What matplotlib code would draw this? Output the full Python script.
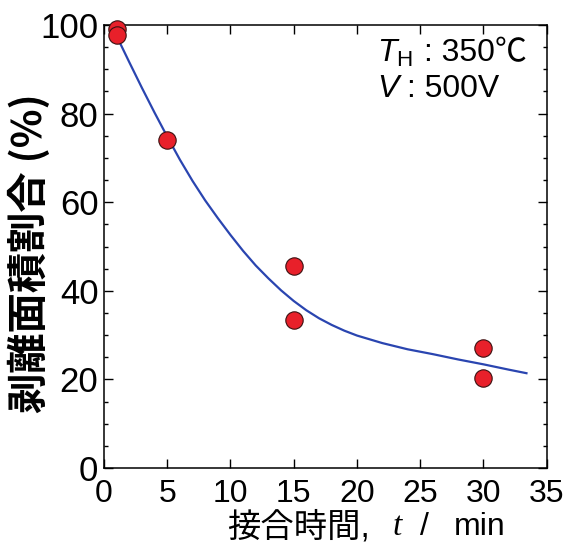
import matplotlib
matplotlib.use("Agg")
import matplotlib.pyplot as plt
from matplotlib.ticker import MultipleLocator

# Measured data points
time_min = [1, 1, 5, 15, 15, 30, 30]
peel_ratio = [99.0, 97.7, 74.0, 45.7, 33.4, 27.0, 20.4]

# Fitted curve
fit_t = [1, 2, 3, 4, 5, 6, 7, 8, 9, 10, 11, 12, 13, 14, 15, 16, 17, 18, 19, 20,
         22, 24, 26, 28, 30, 32, 33.4]
fit_y = [97.5, 91.6, 85.8, 80.2, 74.8, 69.6, 64.8, 60.4, 56.4, 52.6, 49.0, 45.7,
         42.8, 40.1, 37.7, 35.6, 33.8, 32.3, 31.0, 29.9, 28.2, 26.8, 25.7, 24.5,
         23.4, 22.2, 21.4]

x_ticks = [0, 5, 10, 15, 20, 25, 30, 35]
y_ticks = [0, 20, 40, 60, 80, 100]

plt.rcParams['font.family'] = ['Liberation Sans', 'Noto Sans CJK JP', 'DejaVu Sans']
plt.rcParams['mathtext.fontset'] = 'custom'
plt.rcParams['mathtext.rm'] = 'Liberation Sans'
plt.rcParams['mathtext.it'] = 'Liberation Sans:italic'

fig = plt.figure(figsize=(5.71, 5.44), dpi=100)
ax = fig.add_axes([104/571, 1-468/544, (546.7-104)/571, (468-25)/544])

ax.plot(fit_t, fit_y, color='#2a45b0', lw=1.6, zorder=2)
ax.plot(time_min, peel_ratio, 'o', ms=12.5, mfc='#e8202a', mec='#3a1010', mew=0.8,
        zorder=3, clip_on=False)

ax.set_xlim(0, 35)
ax.set_ylim(0, 100)
ax.set_xticks(x_ticks)
ax.set_yticks(y_ticks)
ax.yaxis.set_minor_locator(MultipleLocator(5))
ax.tick_params(which='both', direction='in', top=True, right=True, width=1.0, colors='black')
ax.tick_params(which='major', length=6.5)
ax.tick_params(which='minor', length=3)
ax.tick_params(axis='x', pad=8, labelsize=23)
ax.tick_params(axis='y', pad=4, labelsize=25)
for s in ax.spines.values():
    s.set_linewidth(1.1)

fig.text(30/571, 1-253/544, '剥離面積割合 (%)', rotation=90, ha='center', va='center',
         fontsize=29, fontweight='bold', family=['Noto Sans CJK JP', 'DejaVu Sans'])

# x label: pieces so that t is italic
xl_y = 1-527/544
fig.text(227/571, xl_y, '接合時間,', ha='left', va='center', fontsize=24,
         family=['Liberation Sans', 'Noto Sans CJK JP'])
fig.text(393/571, xl_y, 't', ha='left', va='center', fontsize=24, style='italic',
         family=['Liberation Serif'])
fig.text(420/571, xl_y, '/', ha='left', va='center', fontsize=23,
         family=['Liberation Sans'])
fig.text(454/571, xl_y, 'min', ha='left', va='center', fontsize=23,
         family=['Liberation Sans'])

# annotation
fig.text(377/571, 1-53/544, '$\\mathit{T}_{\\mathrm{H}}$', ha='left', va='center', fontsize=23)
fig.text(424/571, 1-53/544, ': 350℃', ha='left', va='center', fontsize=23,
         family=['Liberation Sans', 'Noto Sans CJK JP'])
fig.text(377/571, 1-89/544, '$\\mathit{V}$', ha='left', va='center', fontsize=23)
fig.text(407/571, 1-89/544, ': 500V', ha='left', va='center', fontsize=23,
         family=['Liberation Sans'])

fig.savefig('out.png', dpi=100)
